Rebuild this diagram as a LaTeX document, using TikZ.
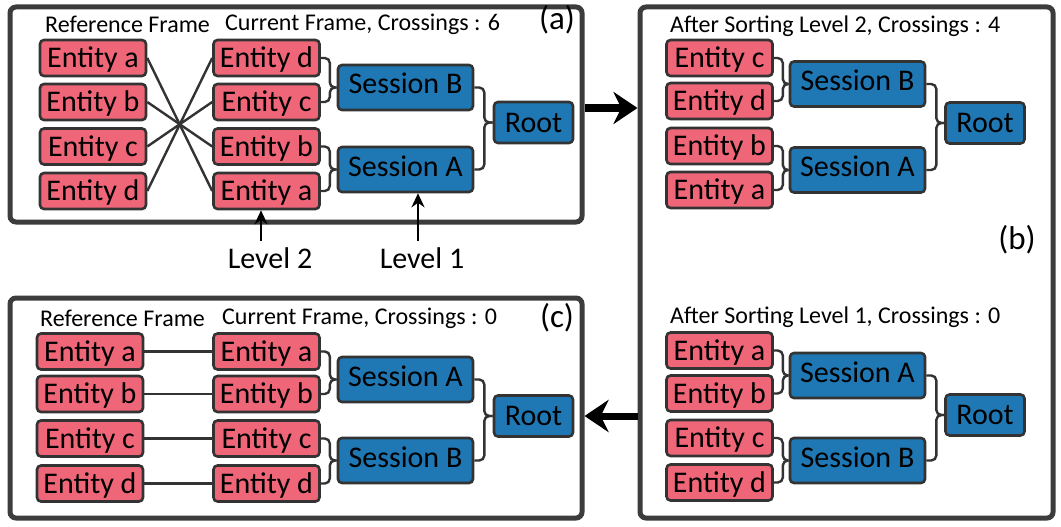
\documentclass[tikz,border=0pt]{standalone}
\usepackage{fontspec}
\setmainfont{Carlito}
\usetikzlibrary{arrows.meta,calc}
\definecolor{entpink}{HTML}{EE6677}
\definecolor{sesblue}{HTML}{1F77B4}
\definecolor{edge}{HTML}{333333}
\definecolor{frame}{HTML}{3C3C3C}
\tikzset{
  box/.style={rectangle,rounded corners=4pt,draw=edge,line width=2.6pt,inner sep=0pt,
    font=\fontsize{30}{32}\selectfont,text height=21.5pt,text depth=2pt},
  ent/.style={box,fill=entpink,minimum width=106pt,minimum height=36pt},
  ses/.style={box,fill=sesblue,minimum width=135pt,minimum height=45pt,text height=17pt,text depth=4pt},
  rootbox/.style={box,fill=sesblue,minimum width=79pt,minimum height=41pt},
  panel/.style={rectangle,rounded corners=6pt,draw=frame,line width=5pt,fill=white},
  conn/.style={draw=edge,line width=2.4pt,rounded corners=5pt},
  head/.style={anchor=west,inner sep=0pt,font=\fontsize{24}{26}\selectfont},
  tag/.style={inner sep=0pt,font=\fontsize{33}{35}\selectfont},
  lvl/.style={inner sep=0pt,font=\fontsize{30}{32}\selectfont},
  lvarrow/.style={draw=black,line width=2.6pt,-{Stealth[length=14pt,width=13pt]}},
  bigarrow/.style={draw=black,line width=7pt,-{Stealth[length=24pt,width=32pt]}}
}
\newcommand\brc[3]{\draw[conn] (#1.east) -| ([xshift=#3]#1.east |- #2.west) -- (#2.west);}
\begin{document}
\begin{tikzpicture}[x=1pt,y=-1pt]
\useasboundingbox (0,0) rectangle (1061,527);
% panels
\node[panel,minimum width=572pt,minimum height=215pt] (pa) at (296,114.5) {};
\node[panel,minimum width=413pt,minimum height=511pt] (pb) at (846.5,262.5) {};
\node[panel,minimum width=572pt,minimum height=220pt] (pc) at (296,408) {};

% ---------- panel (a) ----------
\node[head] (ha1) at (45,24) {Reference Frame};
\node[head] (ha2) at (225,24) {Current Frame, Crossings : 6};
\node[tag] (ta) at (557,20) {(a)};
\node[ent] (aLa) at (93,58) {Entity a};
\node[ent] (aLb) at (93,102) {Entity b};
\node[ent] (aLc) at (93,146.5) {Entity c};
\node[ent] (aLd) at (93,191) {Entity d};
\node[ent] (aRd) at (266.5,58) {Entity d};
\node[ent] (aRc) at (266.5,102) {Entity c};
\node[ent] (aRb) at (266.5,146.5) {Entity b};
\node[ent] (aRa) at (266.5,191) {Entity a};
\node[ses] (aSB) at (405.5,87.5) {Session B};
\node[ses] (aSA) at (405.5,169.5) {Session A};
\node[rootbox] (aRt) at (533.5,122.5) {Root};
\draw[conn] (aLa.east) -- (aRa.west);
\draw[conn] (aLb.east) -- (aRb.west);
\draw[conn] (aLc.east) -- (aRc.west);
\draw[conn] (aLd.east) -- (aRd.west);
\brc{aRd}{aSB}{9pt}\brc{aRc}{aSB}{9pt}
\brc{aRb}{aSA}{9pt}\brc{aRa}{aSA}{9pt}
\brc{aSB}{aRt}{10pt}\brc{aSA}{aRt}{10pt}
% level labels
\node[lvl] (lv2) at (270,258) {Level 2};
\node[lvl] (lv1) at (422,258) {Level 1};
\coordinate (l2) at (261,241);
\coordinate (l1) at (418,241);
\draw[lvarrow] (l2) -- (l2 |- aRa.south);
\draw[lvarrow] (l1) -- (l1 |- aSA.south);

% ---------- panel (b) upper ----------
\node[head] (hb1) at (670,26) {After Sorting Level 2, Crossings : 4};
\node[ent] (bUc) at (719.5,58) {Entity c};
\node[ent] (bUd) at (719.5,101) {Entity d};
\node[ent] (bUb) at (719.5,146) {Entity b};
\node[ent] (bUa) at (719.5,190) {Entity a};
\node[ses] (bUSB) at (857.5,84) {Session B};
\node[ses] (bUSA) at (857.5,170) {Session A};
\node[rootbox] (bURt) at (985,123) {Root};
\brc{bUc}{bUSB}{9pt}\brc{bUd}{bUSB}{9pt}
\brc{bUb}{bUSA}{9pt}\brc{bUa}{bUSA}{9pt}
\brc{bUSB}{bURt}{10pt}\brc{bUSA}{bURt}{10pt}
\node[tag] (tb) at (1017,240) {(b)};

% ---------- panel (b) lower ----------
\node[head] (hb2) at (670,317) {After Sorting Level 1, Crossings : 0};
\node[ent] (bDa) at (719.5,350.5) {Entity a};
\node[ent] (bDb) at (719.5,393.5) {Entity b};
\node[ent] (bDc) at (719.5,438) {Entity c};
\node[ent] (bDd) at (719.5,482.5) {Entity d};
\node[ses] (bDSA) at (857.5,375.5) {Session A};
\node[ses] (bDSB) at (857.5,460.5) {Session B};
\node[rootbox] (bDRt) at (985,415) {Root};
\brc{bDa}{bDSA}{9pt}\brc{bDb}{bDSA}{9pt}
\brc{bDc}{bDSB}{9pt}\brc{bDd}{bDSB}{9pt}
\brc{bDSA}{bDRt}{10pt}\brc{bDSB}{bDRt}{10pt}

% ---------- panel (c) ----------
\node[head] (hc1) at (40,318) {Reference Frame};
\node[head] (hc2) at (222,318) {Current Frame, Crossings : 0};
\node[tag] (tc) at (557,318) {(c)};
\node[ent] (cLa) at (90,351.5) {Entity a};
\node[ent] (cLb) at (90,394) {Entity b};
\node[ent] (cLc) at (90,438.5) {Entity c};
\node[ent] (cLd) at (90,483.5) {Entity d};
\node[ent] (cRa) at (266.5,351.5) {Entity a};
\node[ent] (cRb) at (266.5,394) {Entity b};
\node[ent] (cRc) at (266.5,438.5) {Entity c};
\node[ent] (cRd) at (266.5,483.5) {Entity d};
\node[ses] (cSA) at (405.5,379.5) {Session A};
\node[ses] (cSB) at (405.5,460.5) {Session B};
\node[rootbox] (cRt) at (533.5,416) {Root};
\draw[conn] (cLa.east) -- (cRa.west);
\draw[conn] (cLb.east) -- (cRb.west);
\draw[conn] (cLc.east) -- (cRc.west);
\draw[conn] (cLd.east) -- (cRd.west);
\brc{cRa}{cSA}{9pt}\brc{cRb}{cSA}{9pt}
\brc{cRc}{cSB}{9pt}\brc{cRd}{cSB}{9pt}
\brc{cSA}{cRt}{10pt}\brc{cSB}{cRt}{10pt}

% ---------- big arrows ----------
\draw[bigarrow] ([yshift=6.5pt]pa.east) -- ([yshift=6.5pt]pa.east -| pb.west);
\draw[bigarrow] (pb.west |- cRt) -- (pc.east |- cRt);
\end{tikzpicture}
\end{document}
